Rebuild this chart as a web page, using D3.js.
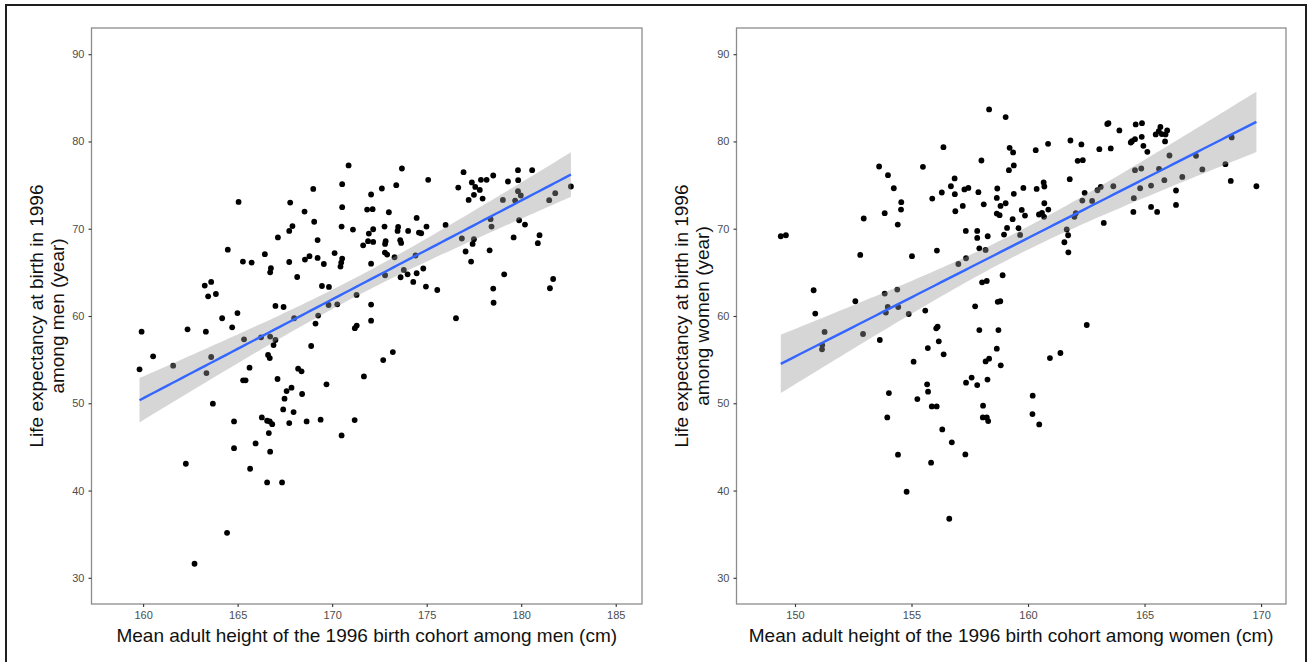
<!DOCTYPE html>
<html>
<head>
<meta charset="utf-8">
<script src="https://cdn.jsdelivr.net/npm/d3@7"></script>
<style>
  body { margin: 0; background: #fff; }
  svg { display: block; font-family: "Liberation Sans", Arial, Helvetica, sans-serif; }
</style>
</head>
<body>
<svg id="chart" width="1308" height="662"></svg>
<script>
// men: [mean adult height (cm), life expectancy (year)]
var menPoints = [
  [170.87,77.25],[170.53,75.1],[169.0,74.56],[165.05,73.07],[167.78,73.0],[170.53,72.47],[171.85,72.2],
  [168.54,71.97],[169.05,70.8],[167.9,70.3],[167.73,69.75],[170.5,70.25],[171.1,69.9],[167.13,69.0],
  [169.23,68.7],[171.94,69.45],[171.64,68.1],[171.9,68.57],[164.48,67.6],[166.44,67.08],[170.13,67.2],
  [168.8,66.85],[168.56,66.47],[169.23,66.65],[170.53,66.58],[165.28,66.24],[165.74,66.12],[167.73,66.19],
  [169.56,65.96],[170.48,66.12],[170.44,65.66],[166.76,65.47],[166.72,65.0],[168.15,64.47],[163.26,63.49],
  [163.6,63.9],[163.44,62.26],[163.85,62.52],[169.46,63.44],[169.83,63.33],[171.29,62.41],[167.0,61.15],
  [167.43,61.03],[169.81,61.26],[170.27,61.34],[164.99,60.34],[164.18,59.74],[164.71,58.7],[167.99,59.74],
  [169.26,60.05],[169.12,59.13],[159.92,58.2],[162.35,58.47],[163.32,58.2],[171.3,58.9],[171.2,58.6],
  [165.34,57.33],[166.24,57.56],[166.72,57.64],[167.0,57.25],[166.9,56.67],[168.89,56.56],
  [160.53,55.38],[161.59,54.31],[163.6,55.3],[163.35,53.46],[159.81,53.89],[166.61,55.53],[166.7,55.18],
  [165.63,54.08],[165.29,52.63],[165.42,52.63],[168.2,53.97],[168.38,53.66],[167.11,52.78],[169.7,52.17],
  [171.68,53.08],[167.85,51.79],[167.59,51.4],[168.41,51.06],[167.48,50.53],[163.69,49.95],[167.41,49.3],
  [167.96,48.99],[164.81,47.92],[166.28,48.38],[166.56,48.0],[166.7,47.92],[166.83,47.61],[167.73,47.73],
  [168.65,47.92],[169.39,48.12],[171.19,48.07],[170.5,46.32],[166.65,46.58],[165.95,45.4],[164.81,44.86],
  [166.72,44.45],[162.26,43.07],[165.66,42.5],[166.56,40.93],[167.35,40.93],[164.44,35.16],[162.72,31.61],
  [173.69,76.9],[176.95,76.48],[179.83,76.71],[180.58,76.71],[178.52,76.1],[175.08,75.6],[177.39,75.3],
  [177.87,75.6],[178.17,75.6],[179.3,75.41],[179.84,75.56],[173.39,74.99],[172.63,74.61],[177.57,74.79],
  [177.81,74.45],[176.67,74.72],[172.06,73.92],[177.5,73.88],[177.96,73.46],[177.22,73.3],[179.83,74.3],
  [179.98,73.81],[179.68,73.23],[179.03,73.3],[182.63,74.84],[181.8,74.07],[181.48,73.27],[172.14,72.24],
  [173.0,71.89],[174.47,71.24],[178.38,71.09],[179.89,70.97],[176.0,70.43],[172.77,70.25],[173.49,70.21],
  [173.46,69.75],[174.99,70.25],[178.43,70.25],[180.2,70.48],[172.17,69.94],[174.02,69.75],[174.59,69.56],
  [174.71,69.48],[172.17,68.49],[172.83,68.57],[172.8,68.26],[173.6,68.68],[173.65,68.37],[176.86,68.88],
  [177.5,68.8],[177.43,68.26],[179.6,69.0],[180.97,69.26],[180.88,68.34],[177.06,67.39],[178.33,67.53],
  [172.79,67.27],[172.91,67.04],[173.3,66.73],[174.41,66.93],[172.06,66.0],[177.35,66.24],[172.8,64.67],
  [173.79,65.28],[173.99,64.78],[173.62,64.44],[174.47,64.9],[174.82,65.44],[174.29,63.9],[174.96,63.37],
  [175.56,62.98],[179.1,64.78],[178.52,63.14],[181.69,64.24],[181.52,63.18],[178.54,61.52],[172.06,61.31],
  [172.06,59.47],[176.55,59.74],[172.7,54.95],[173.21,55.87]
];

// women: [mean adult height (cm), life expectancy (year)]
var womenPoints = [
  [158.33,83.67],[159.04,82.79],[156.37,79.35],[159.21,79.27],[159.36,78.74],[158.0,77.82],[153.61,77.13],
  [155.49,77.09],[159.39,77.25],[159.18,76.71],[153.99,76.14],[156.85,75.76],[154.24,74.64],[156.69,74.87],
  [157.27,74.5],[157.44,74.68],[157.87,74.19],[158.68,74.61],[154.56,73.04],[155.89,73.46],[156.3,74.15],
  [156.86,73.96],[158.66,73.53],[159.04,72.92],[158.82,72.61],[159.39,74.0],[154.55,72.2],[157.2,72.61],
  [158.1,72.8],[153.85,71.78],[152.95,71.17],[156.88,72.0],[158.66,71.74],[158.78,71.55],[159.34,71.09],
  [154.41,70.48],[159.1,70.09],[158.97,69.33],[157.82,69.75],[157.33,69.75],[157.82,68.95],[158.27,69.14],
  [149.39,69.14],[149.61,69.25],[157.91,67.76],[158.18,67.57],[156.09,67.5],[152.8,67.0],[155.02,66.85],
  [157.01,65.96],[157.34,66.62],[158.91,64.67],[158.03,63.86],[158.23,64.01],[150.8,62.95],[152.59,61.69],
  [153.85,62.57],[154.39,63.03],[153.98,61.03],[153.9,60.39],[154.43,61.03],[154.88,60.23],[158.81,61.69],
  [158.7,61.62],[155.59,60.62],[157.73,61.11],[150.87,60.28],[151.27,58.17],[152.92,57.94],[156.06,58.59],
  [156.12,58.78],[157.91,58.39],[158.73,58.39],[153.64,57.25],[156.17,57.1],[151.17,56.67],[151.16,56.18],
  [155.7,56.33],[156.38,55.61],[155.09,54.77],[158.66,56.26],[158.18,54.8],[158.33,55.11],[158.83,54.35],
  [157.34,52.36],[157.58,52.94],[157.82,52.09],[158.26,52.71],[155.67,52.17],[155.71,51.33],[154.03,51.17],
  [155.25,50.48],[155.87,49.64],[156.08,49.64],[158.07,49.72],[153.96,48.38],[158.06,48.38],[158.23,48.38],
  [158.29,47.96],[156.32,47.0],[156.73,45.52],[154.42,44.11],[157.31,44.14],[155.84,43.19],[154.79,39.86],
  [156.62,36.77],
  [163.45,82.1],[163.4,82.0],[164.62,81.95],[164.89,82.1],[165.68,81.67],[163.92,81.26],[165.48,80.8],
  [165.61,81.18],[165.97,81.26],[165.9,80.8],[165.88,80.0],[165.74,80.84],[164.88,80.53],[164.59,80.26],
  [164.41,79.88],[164.46,80.03],[164.95,79.5],[165.12,78.81],[160.86,79.73],[161.82,80.11],[162.29,79.66],
  [160.33,79.0],[163.06,79.12],[163.55,79.2],[162.13,77.78],[162.35,77.86],[166.07,78.39],[167.21,78.35],
  [168.74,80.46],[161.79,75.68],[164.59,76.71],[164.86,76.9],[165.62,76.86],[168.47,77.4],[167.48,76.79],
  [166.62,75.94],[165.85,75.56],[165.28,74.95],[164.81,74.64],[168.7,75.48],[169.8,74.87],[166.35,74.38],
  [163.66,74.87],[163.12,74.79],[162.98,74.41],[164.54,73.5],[166.35,72.73],[165.28,72.5],[165.54,71.93],
  [164.52,71.93],[162.43,74.11],[162.33,73.23],[162.75,73.19],[160.67,75.3],[160.7,74.84],[160.37,74.56],
  [159.8,74.68],[160.7,72.92],[159.73,72.16],[159.87,71.51],[160.47,71.63],[160.6,71.82],[160.69,71.36],
  [160.87,72.2],[159.59,70.06],[159.66,69.29],[162.05,71.78],[161.99,71.36],[163.25,70.67],[161.66,69.91],
  [161.72,69.25],[161.56,68.45],[161.73,67.3],[162.52,58.97],
  [160.94,55.18],[161.39,55.76],[160.2,50.87],[160.19,48.76],[160.48,47.58]
];

var yTicks = [30, 40, 50, 60, 70, 80, 90];
var xTicksMen = [160, 165, 170, 175, 180, 185];
var xTicksWomen = [150, 155, 160, 165, 170];

var yTitleMen = ["Life expectancy at birth in 1996", "among men (year)"];
var yTitleWomen = ["Life expectancy at birth in 1996", "among women (year)"];
var xTitleMen = "Mean adult height of the 1996 birth cohort among men (cm)";
var xTitleWomen = "Mean adult height of the 1996 birth cohort among women (cm)";

var svg = d3.select("#chart");

// outer frame
svg.append("rect")
  .attr("x", 6).attr("y", 5).attr("width", 1300).attr("height", 700)
  .attr("fill", "none").attr("stroke", "#1e1e1e").attr("stroke-width", 2);

// linear fit with 95% confidence band (like geom_smooth(method = "lm"))
function linFit(pts) {
  var n = pts.length;
  var xbar = d3.mean(pts, d => d[0]), ybar = d3.mean(pts, d => d[1]);
  var sxx = d3.sum(pts, d => (d[0] - xbar) * (d[0] - xbar));
  var sxy = d3.sum(pts, d => (d[0] - xbar) * (d[1] - ybar));
  var b = sxy / sxx, a = ybar - b * xbar;
  var sse = d3.sum(pts, d => Math.pow(d[1] - (a + b * d[0]), 2));
  var s = Math.sqrt(sse / (n - 2));
  var t = 1.973;
  var ext = d3.extent(pts, d => d[0]);
  var out = [];
  for (var i = 0; i <= 80; i++) {
    var x = ext[0] + (ext[1] - ext[0]) * i / 80;
    var fit = a + b * x;
    var se = s * Math.sqrt(1 / n + (x - xbar) * (x - xbar) / sxx);
    out.push({x: x, y: fit, lo: fit - t * se, hi: fit + t * se});
  }
  return out;
}

function drawPanel(cfg) {
  var g = svg.append("g");
  var x = d3.scaleLinear().domain(cfg.xDomain).range([cfg.left, cfg.right]);
  var y = d3.scaleLinear().domain([27, 93]).range([604, 28]);

  // points
  g.append("g").selectAll("circle")
    .data(cfg.points)
    .join("circle")
      .attr("cx", d => x(d[0]))
      .attr("cy", d => y(d[1]))
      .attr("r", 2.9)
      .attr("fill", "#000");

  var fit = linFit(cfg.points);
  g.append("path")
    .datum(fit)
    .attr("fill", "#999999")
    .attr("fill-opacity", 0.4)
    .attr("d", d3.area().x(d => x(d.x)).y0(d => y(d.lo)).y1(d => y(d.hi)));
  g.append("path")
    .datum(fit)
    .attr("fill", "none")
    .attr("stroke", "#3366FF")
    .attr("stroke-width", 2.4)
    .attr("d", d3.line().x(d => x(d.x)).y(d => y(d.y)));

  // panel border
  g.append("rect")
    .attr("x", cfg.left).attr("y", 28)
    .attr("width", cfg.right - cfg.left).attr("height", 576)
    .attr("fill", "none").attr("stroke", "#8c8c8c").attr("stroke-width", 1.3);

  var xAxis = g.append("g")
    .attr("transform", "translate(0,604)")
    .call(d3.axisBottom(x).tickValues(cfg.xTicks).tickSize(3).tickPadding(4));
  var yAxis = g.append("g")
    .attr("transform", "translate(" + cfg.left + ",0)")
    .call(d3.axisLeft(y).tickValues(yTicks).tickSize(3).tickPadding(4));
  [xAxis, yAxis].forEach(function (ax) {
    ax.select(".domain").remove();
    ax.selectAll(".tick line").attr("stroke", "#333").attr("stroke-width", 1.1);
    ax.selectAll(".tick text")
      .attr("fill", "#4d4d4d")
      .style("font-size", "11px")
      .style("font-family", "'Liberation Sans', Arial, sans-serif");
  });

  g.append("text")
    .attr("x", (cfg.left + cfg.right) / 2)
    .attr("y", 642)
    .attr("text-anchor", "middle")
    .attr("fill", "#111")
    .style("font-size", "19px")
    .text(cfg.xTitle);

  var yt = g.append("text")
    .attr("transform", "translate(" + (cfg.left - 49) + ",316) rotate(-90)")
    .attr("text-anchor", "middle")
    .attr("fill", "#111")
    .style("font-size", "19px");
  cfg.yTitle.forEach(function (line, i) {
    yt.append("tspan").attr("x", 0).attr("dy", i === 0 ? 0 : 21).text(line);
  });
}

drawPanel({
  points: menPoints, xDomain: [157.27, 186.39], left: 91.5, right: 642,
  xTicks: xTicksMen, xTitle: xTitleMen, yTitle: yTitleMen
});
drawPanel({
  points: womenPoints, xDomain: [147.49, 171.07], left: 736.5, right: 1286,
  xTicks: xTicksWomen, xTitle: xTitleWomen, yTitle: yTitleWomen
});
</script>
</body>
</html>
